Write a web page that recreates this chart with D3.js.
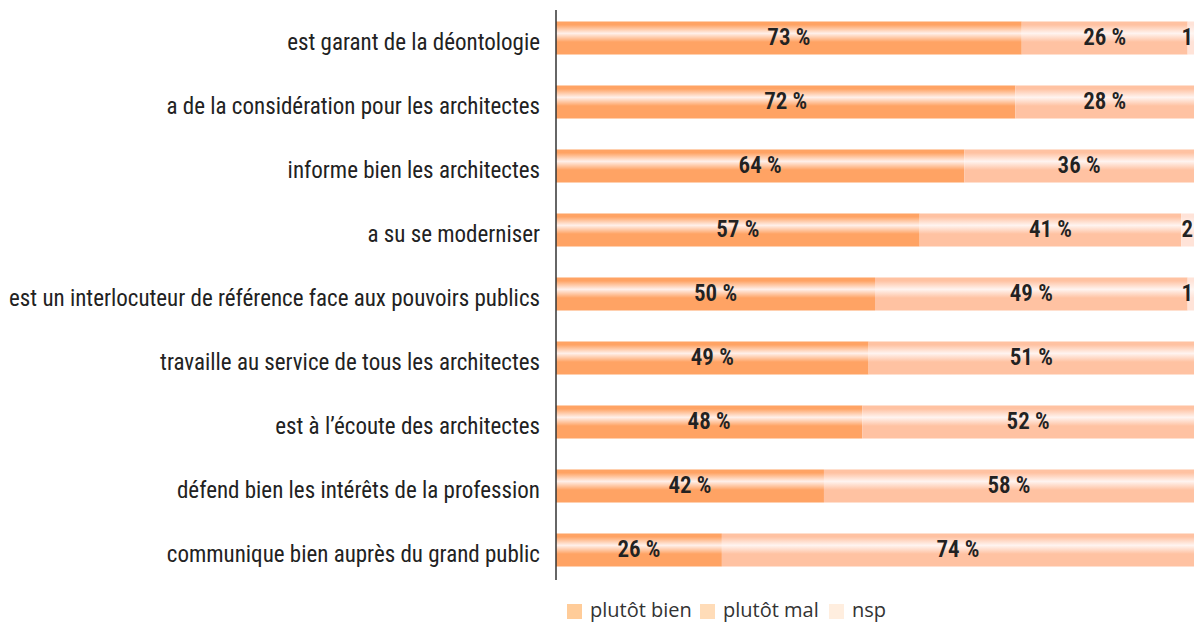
<!DOCTYPE html>
<html><head><meta charset="utf-8">
<script src="https://cdn.jsdelivr.net/npm/d3@7"></script>
<style>
html,body{margin:0;padding:0;background:#fff;}
svg{display:block;}
</style></head>
<body>
<svg id="chart" width="1194" height="622"></svg>
<script>
const categories = [
  "est garant de la déontologie",
  "a de la considération pour les architectes",
  "informe bien les architectes",
  "a su se moderniser",
  "est un interlocuteur de référence face aux pouvoirs publics",
  "travaille au service de tous les architectes",
  "est à l’écoute des architectes",
  "défend bien les intérêts de la profession",
  "communique bien auprès du grand public"
];
const plutotBien = [73, 72, 64, 57, 50, 49, 48, 42, 26];
const plutotMal  = [26, 28, 36, 41, 49, 51, 52, 58, 74];
const nsp        = [1, 0, 0, 2, 1, 0, 0, 0, 0];
const seriesNames = ["plutôt bien", "plutôt mal", "nsp"];
const xTicks = [0, 100];

const barColors = ["#ffa364", "#ffc2a2", "#ffe3d8"];
const peakColors = ["#fff0ea", "#fff4f0", "#fff6f2"];
const legendColors = ["#ffcc99", "#ffdcb8", "#ffeedf"];

const svg = d3.select("#chart");
const margin = {left: 556, right: 0, top: 6, bottom: 42};
const W = 1194, H = 622;

const x = d3.scaleLinear().domain(xTicks).range([margin.left, W - margin.right]);
const y = d3.scaleBand().domain(categories).range([margin.top, margin.top + 64 * categories.length]).paddingInner(0.484).paddingOuter(0.242);

const defs = svg.append("defs");
barColors.forEach((c, i) => {
  const g = defs.append("linearGradient").attr("id", "grad" + i)
    .attr("x1", 0).attr("y1", 0).attr("x2", 0).attr("y2", 1);
  g.append("stop").attr("offset", "0%").attr("stop-color", c);
  g.append("stop").attr("offset", "10%").attr("stop-color", c);
  g.append("stop").attr("offset", "36%").attr("stop-color", peakColors[i]);
  g.append("stop").attr("offset", "62%").attr("stop-color", c);
  g.append("stop").attr("offset", "100%").attr("stop-color", c);
});

const rows = categories.map((cat, i) => {
  const vals = [plutotBien[i], plutotMal[i], nsp[i]];
  let acc = 0;
  return vals.map((v, s) => { const seg = {cat, s, v, x0: acc, x1: acc + v}; acc += v; return seg; });
}).flat().filter(d => d.v > 0);

const labelFont = "'Roboto Condensed', 'Liberation Sans Narrow', 'Arial Narrow', sans-serif";

svg.append("g").selectAll("rect").data(rows).join("rect")
  .attr("x", d => x(d.x0))
  .attr("y", d => y(d.cat))
  .attr("width", d => x(d.x1) - x(d.x0))
  .attr("height", y.bandwidth())
  .attr("fill", d => `url(#grad${d.s})`);

const small = d => (x(d.x1) - x(d.x0)) < 25;
svg.append("g").selectAll("text").data(rows).join("text")
  .attr("x", d => small(d) ? x(d.x1) - 1 : (x(d.x0) + x(d.x1)) / 2)
  .attr("y", d => y(d.cat) + y.bandwidth() / 2)
  .attr("dy", "0.29em")
  .attr("text-anchor", d => small(d) ? "end" : "middle")
  .attr("font-family", labelFont)
  .attr("font-weight", 600)
  .attr("font-size", 23)
  .attr("fill", "#222")
  .text(d => small(d) ? `${d.v}` : `${d.v} %`);

// category axis
const yAxis = d3.axisLeft(y).tickSize(0).tickPadding(16);
const ga = svg.append("g").attr("transform", `translate(${margin.left},0)`).call(yAxis);
ga.select(".domain").remove();
ga.selectAll("text").attr("font-family", labelFont).attr("font-size", 23).attr("fill", "#222").attr("dy", "0.54em");

svg.append("line").attr("x1", margin.left).attr("x2", margin.left)
  .attr("y1", 10).attr("y2", 580).attr("stroke", "#333").attr("stroke-width", 1.5);

// legend
const legendX = [567, 700, 829];
const lg = svg.append("g").selectAll("g").data(seriesNames).join("g")
  .attr("transform", (d, i) => `translate(${legendX[i]},604)`);
lg.append("rect").attr("width", 15).attr("height", 15).attr("fill", (d, i) => legendColors[i]);
lg.append("text").attr("x", 23).attr("y", 12.5)
  .attr("font-family", "'Open Sans', 'Noto Sans', sans-serif").attr("font-size", 20)
  .attr("fill", "#333").text(d => d);
</script>
</body></html>
